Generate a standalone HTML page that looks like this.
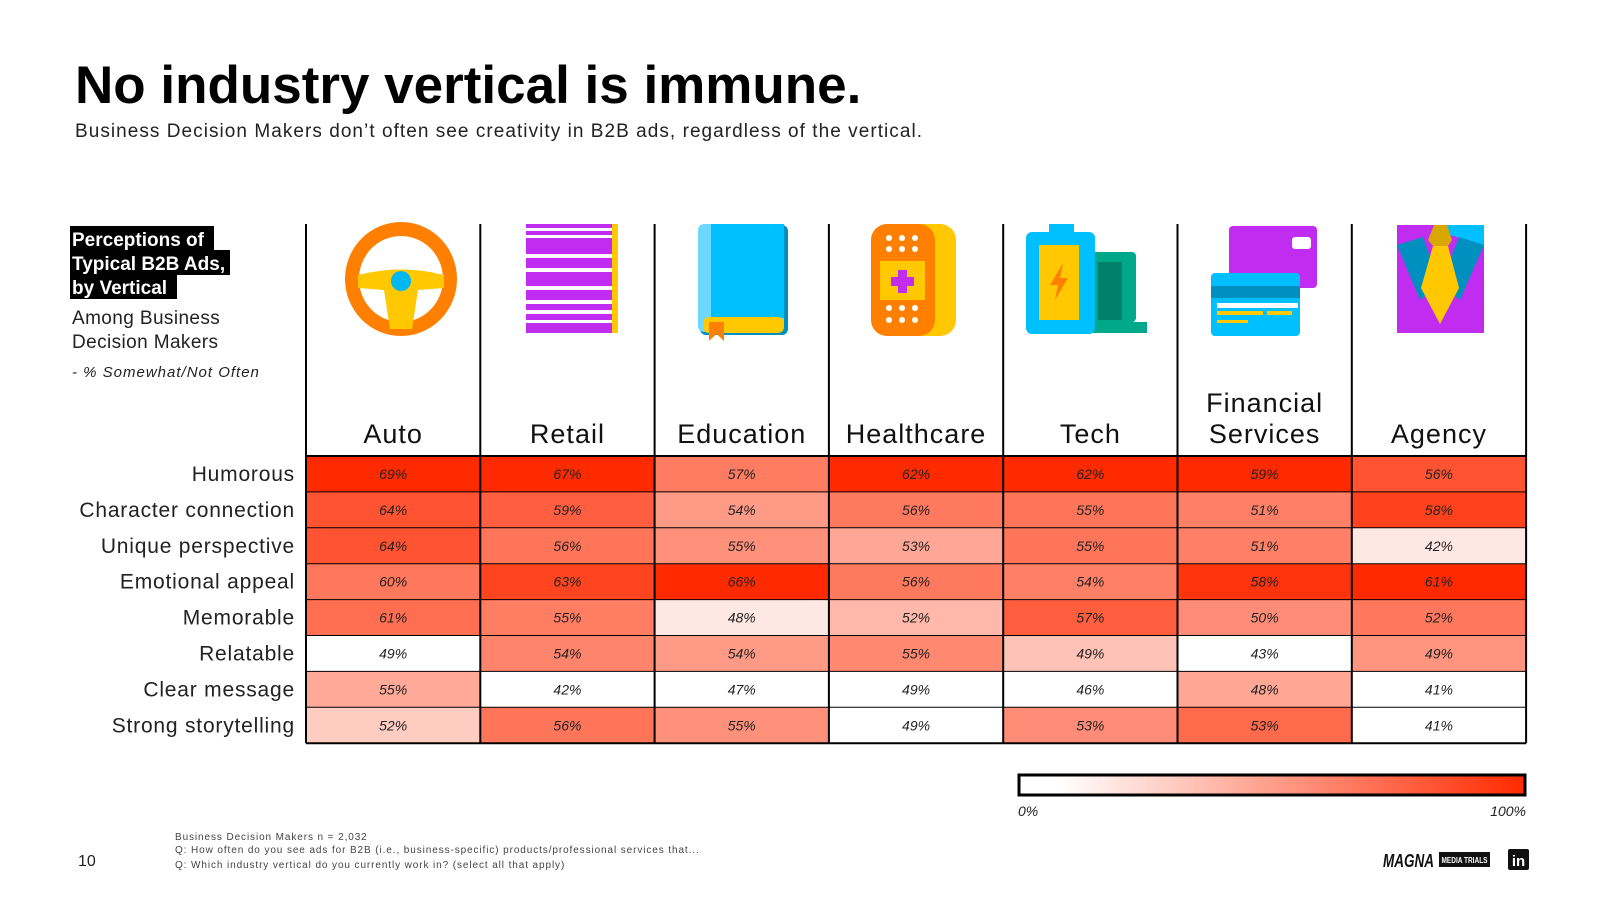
<!DOCTYPE html>
<html><head><meta charset="utf-8">
<style>
body{margin:0;background:#fff;}
svg text{font-family:"Liberation Sans",sans-serif;}
</style></head>
<body>
<svg id="chart" width="1600" height="900" viewBox="0 0 1600 900" xmlns="http://www.w3.org/2000/svg">
<defs>
<linearGradient id="cbar" x1="0" x2="1" y1="0" y2="0">
<stop offset="0.08" stop-color="#ffffff"/><stop offset="1" stop-color="#ff2a00"/>
</linearGradient>
</defs>
<text x="75" y="103" font-size="53" font-weight="bold" fill="#000">No industry vertical is immune.</text>
<text x="75" y="137" font-size="19" fill="#222" textLength="847" lengthAdjust="spacing">Business Decision Makers don’t often see creativity in B2B ads, regardless of the vertical.</text>

<g>
<rect x="70" y="226" width="144" height="25" fill="#000"/>
<rect x="70" y="250" width="160" height="25" fill="#000"/>
<rect x="70" y="274" width="107" height="25" fill="#000"/>
<text x="72" y="246" font-size="19" font-weight="bold" fill="#fff">Perceptions of</text>
<text x="72" y="270" font-size="19" font-weight="bold" fill="#fff">Typical B2B Ads,</text>
<text x="72" y="294" font-size="19" font-weight="bold" fill="#fff">by Vertical</text>
<text x="72" y="324" font-size="19" fill="#222" letter-spacing="0.4">Among Business</text>
<text x="72" y="348" font-size="19" fill="#222" letter-spacing="0.4">Decision Makers</text>
<text x="72" y="377" font-size="15" font-style="italic" fill="#222" letter-spacing="1">- % Somewhat/Not Often</text>
</g>

<g id="icons">
<g>
<ellipse cx="401" cy="279" rx="49" ry="50" fill="none" stroke="#ff8000" stroke-width="14"/>
<path d="M358 275 Q401 264 444 275 L444 288 L418 290 L412 329 L390 329 L384 290 L358 288 Z" fill="#ffc800"/>
<circle cx="401" cy="281" r="10" fill="#00b8f0"/>
</g>
<g fill="#c02cf0">
<rect x="526" y="224" width="86" height="4"/><rect x="526" y="231" width="86" height="4"/>
<rect x="526" y="238" width="86" height="16"/><rect x="526" y="258" width="86" height="10"/>
<rect x="526" y="272" width="86" height="14"/><rect x="526" y="290" width="86" height="10"/>
<rect x="526" y="304" width="86" height="6"/><rect x="526" y="314" width="86" height="6"/>
<rect x="526" y="323" width="86" height="10"/>
<rect x="612" y="224" width="6" height="109" fill="#ffc800"/>
</g>
<g>
<rect x="700" y="225" width="88" height="110" rx="6" fill="#0090c0"/>
<rect x="698" y="224" width="86" height="108" rx="6" fill="#6cd8ff"/>
<rect x="711" y="224" width="73" height="94" fill="#00bfff"/>
<rect x="703" y="317" width="81" height="16" rx="6" fill="#ffc800"/>
<path d="M709 322 H724 V341 L716.5 334 L709 341 Z" fill="#ff8000"/>
</g>
<g>
<rect x="890" y="224" width="66" height="112" rx="16" fill="#ffc800"/>
<rect x="871" y="224" width="64" height="112" rx="16" fill="#ff8000"/>
<rect x="880" y="261" width="45" height="39" fill="#ffc800"/>
<path d="M898 270 h9 v7 h7 v9 h-7 v7 h-9 v-7 h-7 v-9 h7 z" fill="#c02cf0"/>
<g fill="#fff"><circle cx="889" cy="238" r="3"/><circle cx="902" cy="238" r="3"/><circle cx="915" cy="238" r="3"/>
<circle cx="889" cy="249" r="3"/><circle cx="902" cy="249" r="3"/><circle cx="915" cy="249" r="3"/>
<circle cx="889" cy="308" r="3"/><circle cx="902" cy="308" r="3"/><circle cx="915" cy="308" r="3"/>
<circle cx="889" cy="320" r="3"/><circle cx="902" cy="320" r="3"/><circle cx="915" cy="320" r="3"/></g>
</g>
<g>
<rect x="1090" y="252" width="46" height="70" rx="4" fill="#00a88a"/>
<rect x="1090" y="322" width="57" height="11" fill="#00a88a"/>
<rect x="1098" y="262" width="24" height="58" fill="#00806a"/>
<rect x="1049" y="224" width="25" height="10" fill="#00bfff"/>
<rect x="1026" y="232" width="69" height="102" rx="6" fill="#00bfff"/>
<rect x="1039" y="245" width="40" height="75" fill="#ffc800"/>
<path d="M1063 263 L1050 285 L1058 285 L1055 300 L1068 278 L1060 278 Z" fill="#ff8000"/>
</g>
<g>
<rect x="1229" y="226" width="88" height="62" rx="4" fill="#c02cf0"/>
<rect x="1292" y="237" width="19" height="12" rx="3" fill="#fff"/>
<rect x="1211" y="273" width="89" height="63" rx="4" fill="#00bfff"/>
<rect x="1211" y="286" width="89" height="12" fill="#0090c0"/>
<rect x="1217" y="303" width="81" height="5" fill="#fff"/>
<rect x="1217" y="311" width="46" height="4" fill="#ffc800"/><rect x="1267" y="311" width="25" height="4" fill="#ffc800"/>
<rect x="1217" y="320" width="31" height="3" fill="#ffc800"/>
</g>
<g>
<rect x="1397" y="225" width="87" height="108" fill="#c02cf0"/>
<path d="M1397 225 H1484 V245 L1450 235 L1440 225 Z" fill="#00bfff"/>
<path d="M1397 245 L1423 237 L1440 285 L1420 300 Z M1484 245 L1459 237 L1440 285 L1460 300 Z" fill="#0090c0"/>
<path d="M1434 225 H1447 L1452 240 L1448 246 H1433 L1428 240 Z" fill="#d8a800"/>
<path d="M1433 246 H1448 L1459 288 L1440 324 L1421 288 Z" fill="#ffc800"/>
</g>
</g>

<g id="grid"></g>

<g>
<rect x="1019" y="775" width="506" height="20" fill="url(#cbar)" stroke="#000" stroke-width="3"/>
<text x="1018" y="816" font-size="14" font-style="italic" fill="#222">0%</text>
<text x="1526" y="816" font-size="14" font-style="italic" fill="#222" text-anchor="end">100%</text>
</g>

<g font-size="10" fill="#444" letter-spacing="0.9">
<text x="175" y="840">Business Decision Makers n = 2,032</text>
<text x="175" y="853">Q: How often do you see ads for B2B (i.e., business-specific) products/professional services that...</text>
<text x="175" y="868">Q: Which industry vertical do you currently work in? (select all that apply)</text>
</g>
<text x="78" y="866" font-size="16" fill="#222">10</text>
<g>
<text x="1383" y="867" font-size="18" font-weight="bold" font-style="italic" fill="#111" textLength="51" lengthAdjust="spacingAndGlyphs">MAGNA</text>
<rect x="1439" y="852" width="51" height="15" fill="#111"/>
<text x="1464.5" y="863" font-size="8" font-weight="bold" fill="#fff" text-anchor="middle" textLength="46" lengthAdjust="spacingAndGlyphs">MEDIA TRIALS</text>
<rect x="1508" y="849" width="21" height="21" rx="2" fill="#111"/>
<text x="1518.5" y="866" font-size="15" font-weight="bold" fill="#fff" text-anchor="middle">in</text>
</g>
</svg>
<script>
const verticals = ["Auto","Retail","Education","Healthcare","Tech","Financial|Services","Agency"];
const attributes = ["Humorous","Character connection","Unique perspective","Emotional appeal","Memorable","Relatable","Clear message","Strong storytelling"];
const auto = [69,64,64,60,61,49,55,52];
const retail = [67,59,56,63,55,54,42,56];
const education = [57,54,55,66,48,54,47,55];
const healthcare = [62,56,53,56,52,55,49,49];
const tech = [62,55,55,54,57,49,46,53];
const financial = [59,51,51,58,50,43,48,53];
const agency = [56,58,42,61,52,49,41,41];
const series = [auto,retail,education,healthcare,tech,financial,agency];

const NS = "http://www.w3.org/2000/svg";
const g = document.getElementById('grid');
const X0 = 306, CW = 174.3, Y0 = 456, RH = 35.9, HEADTOP = 224;
const xPos = i => X0 + i * CW;
const yPos = j => Y0 + j * RH;
function colorFor(v, col){
  const mn = Math.min(...col), mx = Math.max(...col);
  let t = mx > mn ? (v - mn) / (mx - mn) : 1;
  t = Math.pow(Math.max(0, Math.min(1, t)), 0.75);
  const gch = Math.round(255 - t * 213), b = Math.round(255 - t * 255);
  return `rgb(255,${gch},${b})`;
}
function mk(tag, attrs){ const e = document.createElementNS(NS, tag); for (const k in attrs) e.setAttribute(k, attrs[k]); return e; }

series.forEach((col, i) => {
  col.forEach((v, j) => {
    const r = mk('rect', {x: xPos(i), y: yPos(j), width: CW, height: RH, fill: colorFor(v, col)});
    
    
    g.appendChild(r);
    const t = mk('text', {x: xPos(i) + CW/2, y: yPos(j) + RH/2 + 5, 'font-size': 14, 'font-style': 'italic', fill: '#222', 'text-anchor': 'middle'});
    t.textContent = v + '%';
    
    
    g.appendChild(t);
  });
});
for (let j = 0; j <= attributes.length; j++) {
  const l = mk('line', {x1: X0, x2: xPos(verticals.length), y1: yPos(j), y2: yPos(j), stroke: '#000', 'stroke-width': j === 0 || j === attributes.length ? 2 : 1});
  
  
  g.appendChild(l);
}
for (let i = 0; i <= verticals.length; i++) {
  const l = mk('line', {x1: xPos(i), x2: xPos(i), y1: HEADTOP, y2: yPos(attributes.length), stroke: '#000', 'stroke-width': 2});
  
  
  g.appendChild(l);
}
verticals.forEach((name, i) => {
  const parts = name.split('|');
  parts.forEach((p, k) => {
    const t = mk('text', {x: xPos(i) + CW/2, y: 443 - (parts.length - 1 - k) * 31, 'font-size': 27, 'letter-spacing': 1, fill: '#111', 'text-anchor': 'middle'});
    t.textContent = p;
    
    
    g.appendChild(t);
  });
});
attributes.forEach((a, j) => {
  const t = mk('text', {x: 295, y: yPos(j) + RH/2 + 7, 'font-size': 21, 'letter-spacing': 0.8, fill: '#222', 'text-anchor': 'end'});
  t.textContent = a;
  
  
  g.appendChild(t);
});
</script>
</body></html>
